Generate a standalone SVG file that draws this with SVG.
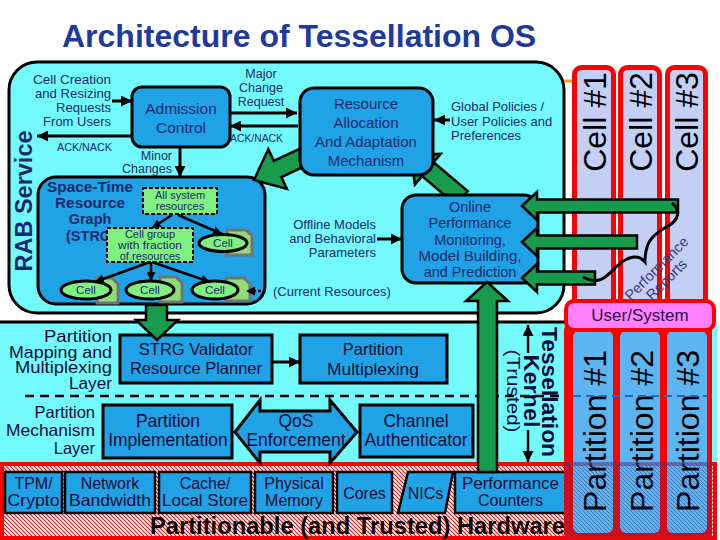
<svg xmlns="http://www.w3.org/2000/svg" width="720" height="540" viewBox="0 0 720 540">
<defs>
<style>
text{font-family:"Liberation Sans",Arial,sans-serif}
.nv{fill:#1a2a6a}
.dk{fill:#0c0c38}
.box{fill:#1fa2e6;stroke:#000;stroke-width:3}
.grn{fill:#179b4c;stroke:#000;stroke-width:2.5;stroke-linejoin:miter}
.ln{stroke:#000;stroke-width:3;fill:none}
.lns{stroke:#000;stroke-width:2.5;fill:none}
.lg{fill:#80f080;stroke:#000;stroke-width:2;stroke-dasharray:4 2}
.cel{fill:#80f080;stroke:#000;stroke-width:3}
.doc{fill:#92dc78;stroke:#6e7672;stroke-width:3}
.cc{fill:#c3cff5;stroke:#f00;stroke-width:5}
.pc{fill:#5cb4f0}
.hw{fill:#1fa2e6;stroke:#000;stroke-width:2.5}
.hwt{font-size:16px;fill:#0c0c38}
.big{font-size:32px;fill:#000}
</style>
<marker id="ah" viewBox="0 0 10 10" refX="10" refY="5" markerWidth="11" markerHeight="11" markerUnits="userSpaceOnUse" orient="auto"><path d="M0,0 L10,5 L0,10 z" fill="#000"/></marker>
<marker id="ahs" viewBox="0 0 10 10" refX="10" refY="5" markerWidth="9" markerHeight="9" markerUnits="userSpaceOnUse" orient="auto"><path d="M0,0 L10,5 L0,10 z" fill="#000"/></marker>
<pattern id="hatch" width="4" height="4" patternUnits="userSpaceOnUse"><rect width="4" height="4" fill="#fff"/><path d="M-1,-1 L5,5 M-1,3 L1,5 M3,-1 L5,1" stroke="#d81818" stroke-width="1.2"/></pattern>
<pattern id="hatchP" width="4" height="4" patternUnits="userSpaceOnUse"><path d="M-1,-1 L5,5 M-1,3 L1,5 M3,-1 L5,1" stroke="#1c2c70" stroke-width="1"/></pattern>
</defs>
<rect width="720" height="540" fill="#fff"/>
<text id="title" x="62" y="47" font-size="32" font-weight="bold" fill="#1f3b99">Architecture of Tessellation OS</text>

<!-- Kernel layer background -->
<g id="kernel-layer">
<rect x="-5" y="322" width="722" height="143" fill="#72fafd"/>
<line x1="-5" y1="322" x2="566" y2="322" stroke="#000" stroke-width="3"/>
<line x1="25" y1="396" x2="564" y2="396" stroke="#000" stroke-width="2.5" stroke-dasharray="9 6"/>
</g>

<!-- Hardware layer -->
<g id="hardware-layer">
<rect x="2" y="464" width="713" height="74" fill="url(#hatch)" stroke="#f00" stroke-width="4"/>
<text x="150" y="534" font-size="23" font-weight="bold" fill="#000" textLength="415" lengthAdjust="spacingAndGlyphs">Partitionable (and Trusted) Hardware</text>
</g>

<!-- RAB service -->
<g id="rab-service">
<rect x="9" y="62" width="555" height="251" rx="28" fill="#72fafd" stroke="#000" stroke-width="3"/>
<text transform="translate(32,201) rotate(-90)" font-size="23.5" font-weight="bold" text-anchor="middle" class="nv">RAB Service</text>
</g>
<line x1="564" y1="81" x2="573" y2="81" stroke="#f0a020" stroke-width="3"/>

<!-- Cells columns -->
<g id="cell1"><rect class="cc" x="574.5" y="67.5" width="39" height="245" rx="7"/><text class="big" transform="translate(606,122) rotate(-90)" text-anchor="middle">Cell #1</text></g>
<g id="cell2"><rect class="cc" x="620.5" y="67.5" width="39" height="245" rx="7"/><text class="big" transform="translate(652,122) rotate(-90)" text-anchor="middle">Cell #2</text></g>
<g id="cell3"><rect class="cc" x="667.5" y="67.5" width="38" height="245" rx="7"/><text class="big" transform="translate(698,122) rotate(-90)" text-anchor="middle">Cell #3</text></g>

<!-- Upper left texts -->
<g id="cell-requests" font-size="13" text-anchor="end">
<text x="111" y="84" class="nv" textLength="78" lengthAdjust="spacingAndGlyphs">Cell Creation</text>
<text x="111" y="98" class="nv" textLength="76" lengthAdjust="spacingAndGlyphs">and Resizing</text>
<text x="111" y="112" class="nv">Requests</text>
<text x="111" y="126" class="nv">From Users</text>
</g>
<text x="57" y="151" font-size="11" class="nv" textLength="55" lengthAdjust="spacingAndGlyphs">ACK/NACK</text>

<g id="admission-control">
<rect class="box" x="132" y="87" width="98" height="60" rx="10"/>
<text x="181" y="114" font-size="15.5" text-anchor="middle" class="nv">Admission</text>
<text x="181" y="133" font-size="15.5" text-anchor="middle" class="nv">Control</text>
</g>

<g id="major-change" font-size="12.5" text-anchor="middle">
<text x="261" y="78" class="nv">Major</text>
<text x="261" y="92" class="nv">Change</text>
<text x="261" y="106" class="nv">Request</text>
</g>
<text x="230" y="142" font-size="11" class="nv" textLength="53" lengthAdjust="spacingAndGlyphs">ACK/NACK</text>
<g font-size="12.5" text-anchor="end">
<text x="172" y="159.5" class="nv">Minor</text>
<text x="172" y="173" class="nv" textLength="50" lengthAdjust="spacingAndGlyphs">Changes</text>
</g>

<!-- Green arrow Online -> Resource -->
<polygon class="grn" points="467.8,191.1 433.6,162.3 440.7,153.9 411,155 414.9,184.5 422,176.1 456.2,204.9"/>

<!-- STRG -->
<g id="strg">
<rect x="38" y="177" width="227" height="127" rx="18" fill="#1fa2e6" stroke="#000" stroke-width="3"/>
<g font-size="14.5" font-weight="bold" text-anchor="middle">
<text x="90" y="191.5" class="nv" textLength="86" lengthAdjust="spacingAndGlyphs">Space-Time</text>
<text x="90" y="207.5" class="nv" textLength="70" lengthAdjust="spacingAndGlyphs">Resource</text>
<text x="90" y="223.5" class="nv">Graph</text>
<text x="91" y="241" class="nv">(STRG)</text>
</g>
</g>
<g id="all-system">
<rect class="lg" x="143" y="188" width="74" height="26"/>
<text x="180" y="199" font-size="11" text-anchor="middle" class="nv">All system</text>
<text x="180" y="210" font-size="11" text-anchor="middle" class="nv">resources</text>
</g>
<g id="cell-group">
<rect class="lg" x="107" y="228" width="86" height="34"/>
<text x="150" y="238" font-size="11" text-anchor="middle" class="nv">Cell group</text>
<text x="150" y="249" font-size="11" text-anchor="middle" class="nv" textLength="64" lengthAdjust="spacingAndGlyphs">with fraction</text>
<text x="150" y="260" font-size="11" text-anchor="middle" class="nv">of resources</text>
</g>
<g id="strg-cell-a"><path class="doc" d="M227,230 H246 L252,236 V255 H227 Z"/><ellipse class="cel" cx="223" cy="243" rx="24" ry="8.5"/><text x="223" y="247" font-size="11.5" text-anchor="middle" class="nv">Cell</text></g>
<g id="strg-cell-b"><path class="doc" d="M97,278 H112 L118,284 V303 H97 Z"/><ellipse class="cel" cx="86" cy="290" rx="25" ry="9"/><text x="86" y="294" font-size="11.5" text-anchor="middle" class="nv">Cell</text></g>
<g id="strg-cell-c"><path class="doc" d="M160,277 H176 L182,283 V302 H160 Z"/><ellipse class="cel" cx="150" cy="290" rx="24" ry="9"/><text x="150" y="294" font-size="11.5" text-anchor="middle" class="nv">Cell</text></g>
<g id="strg-cell-d"><path class="doc" d="M226,278 H244 L250,284 V301 H226 Z"/><ellipse class="cel" cx="215" cy="290" rx="23" ry="9"/><text x="215" y="294" font-size="11.5" text-anchor="middle" class="nv">Cell</text></g>

<!-- Green arrow Resource -> STRG -->
<polygon class="grn" points="310.2,143.8 273.8,160.8 268.3,149.1 254,180 286.9,188.9 281.4,177.2 317.8,160.2"/>

<g id="resource-allocation">
<rect class="box" x="300" y="88" width="133" height="87" rx="14"/>
<g font-size="15" text-anchor="middle">
<text x="366" y="109" class="nv">Resource</text>
<text x="366" y="128" class="nv">Allocation</text>
<text x="366" y="147" class="nv">And Adaptation</text>
<text x="366" y="166" class="nv">Mechanism</text>
</g>
</g>
<g id="policies" font-size="13">
<text x="451" y="111" class="nv">Global Policies /</text>
<text x="451" y="126" class="nv">User Policies and</text>
<text x="451" y="140" class="nv">Preferences</text>
</g>
<g id="offline" font-size="13" text-anchor="end">
<text x="376" y="229" class="nv">Offline Models</text>
<text x="376" y="243" class="nv">and Behavioral</text>
<text x="376" y="257" class="nv">Parameters</text>
</g>
<g id="online-monitoring">
<rect class="box" x="402" y="195" width="136" height="88" rx="14"/>
<g font-size="14.5" text-anchor="middle">
<text x="470" y="212" class="nv">Online</text>
<text x="470" y="228" class="nv">Performance</text>
<text x="470" y="245" class="nv">Monitoring,</text>
<text x="470" y="261" class="nv" textLength="103" lengthAdjust="spacingAndGlyphs">Model Building,</text>
<text x="470" y="277" class="nv">and Prediction</text>
</g>
</g>
<text x="273" y="296" font-size="13" class="nv">(Current Resources)</text>

<!-- Lower layer -->
<g id="mapping-label" font-size="16" text-anchor="end">
<text x="112" y="342" class="dk" textLength="68" lengthAdjust="spacingAndGlyphs">Partition</text>
<text x="112" y="357.5" class="dk" textLength="103" lengthAdjust="spacingAndGlyphs">Mapping and</text>
<text x="112" y="373" class="dk" textLength="97" lengthAdjust="spacingAndGlyphs">Multiplexing</text>
<text x="112" y="388.5" class="dk" textLength="43" lengthAdjust="spacingAndGlyphs">Layer</text>
</g>
<g id="strg-validator">
<rect class="box" x="120" y="335" width="152" height="48"/>
<text x="196" y="355" font-size="16.5" text-anchor="middle" class="dk">STRG Validator</text>
<text x="196" y="374" font-size="16.5" text-anchor="middle" class="dk">Resource Planner</text>
</g>
<g id="partition-multiplexing">
<rect class="box" x="300" y="335" width="147" height="48"/>
<text x="373" y="355" font-size="16.5" text-anchor="middle" class="dk">Partition</text>
<text x="373" y="374.5" font-size="16.5" text-anchor="middle" class="dk" textLength="92" lengthAdjust="spacingAndGlyphs">Multiplexing</text>
</g>
<g id="mechanism-label" font-size="16.5" text-anchor="end">
<text x="95" y="418" class="dk">Partition</text>
<text x="95" y="436" class="dk" textLength="89" lengthAdjust="spacingAndGlyphs">Mechanism</text>
<text x="95" y="454" class="dk">Layer</text>
</g>
<g id="partition-implementation">
<rect class="box" x="103" y="405" width="129" height="53"/>
<text x="168" y="427" font-size="17.5" text-anchor="middle" class="dk">Partition</text>
<text x="168" y="446" font-size="17.5" text-anchor="middle" class="dk">Implementation</text>
</g>
<g id="qos-enforcement">
<polygon points="235,432 260,400 260,411 330,411 330,400 357,432 330,463 330,452 260,452 260,463" fill="#1fa2e6" stroke="#000" stroke-width="3" stroke-linejoin="miter"/>
<text x="296" y="427" font-size="17.5" text-anchor="middle" class="dk">QoS</text>
<text x="296" y="446" font-size="17.5" text-anchor="middle" class="dk">Enforcement</text>
</g>
<g id="channel-authenticator">
<rect class="box" x="360" y="405" width="113" height="52"/>
<text x="416" y="427" font-size="17.5" text-anchor="middle" class="dk">Channel</text>
<text x="416" y="446" font-size="17.5" text-anchor="middle" class="dk">Authenticator</text>
</g>
<g id="tessellation-kernel">
<text transform="translate(542,392) rotate(90)" font-size="21.5" font-weight="bold" text-anchor="middle" class="dk" textLength="130" lengthAdjust="spacingAndGlyphs">Tessellation</text>
<text transform="translate(524,391) rotate(90)" font-size="21.5" font-weight="bold" text-anchor="middle" class="dk" textLength="73" lengthAdjust="spacingAndGlyphs">Kernel</text>
<text transform="translate(507,391) rotate(90)" font-size="19" text-anchor="middle" class="dk" textLength="83" lengthAdjust="spacingAndGlyphs">(Trusted)</text>
</g>

<!-- Hardware boxes -->
<g id="hw-tpm"><rect class="hw" x="5" y="472" width="57" height="41"/><text x="33.5" y="489" class="hwt" text-anchor="middle">TPM/</text><text x="33.5" y="506" class="hwt" text-anchor="middle" textLength="52" lengthAdjust="spacingAndGlyphs">Crypto</text></g>
<g id="hw-network"><rect class="hw" x="65" y="472" width="90" height="41"/><text x="110" y="489" class="hwt" text-anchor="middle">Network</text><text x="110" y="506" class="hwt" text-anchor="middle" textLength="82" lengthAdjust="spacingAndGlyphs">Bandwidth</text></g>
<g id="hw-cache"><rect class="hw" x="159" y="472" width="92" height="41"/><text x="205" y="489" class="hwt" text-anchor="middle">Cache/</text><text x="205" y="506" class="hwt" text-anchor="middle" textLength="86" lengthAdjust="spacingAndGlyphs">Local Store</text></g>
<g id="hw-memory"><rect class="hw" x="255" y="472" width="78" height="41"/><text x="294" y="489" class="hwt" text-anchor="middle">Physical</text><text x="294" y="506" class="hwt" text-anchor="middle">Memory</text></g>
<g id="hw-cores"><rect class="hw" x="337" y="472" width="55" height="41"/><text x="364.5" y="499" class="hwt" font-size="17" text-anchor="middle">Cores</text></g>
<g id="hw-nics"><polygon class="hw" points="408,472 453,472 445,513 398,513"/><text x="425.5" y="499" class="hwt" font-size="17" text-anchor="middle">NICs</text></g>
<g id="hw-perf"><rect class="hw" x="455" y="472" width="111" height="41"/><text x="510.5" y="489" class="hwt" text-anchor="middle" textLength="97" lengthAdjust="spacingAndGlyphs">Performance</text><text x="510.5" y="506" class="hwt" text-anchor="middle">Counters</text></g>

<!-- Partitions -->
<g id="partitions-bg"><rect x="564" y="326" width="148" height="211" rx="4" fill="#f00"/></g>
<g id="partition1"><rect class="pc" x="573" y="331" width="40" height="202" rx="6"/><text class="big" transform="translate(606,431) rotate(-90)" text-anchor="middle">Partition #1</text></g>
<g id="partition2"><rect class="pc" x="620" y="331" width="40" height="202" rx="6"/><text class="big" transform="translate(653,431) rotate(-90)" text-anchor="middle">Partition #2</text></g>
<g id="partition3"><rect class="pc" x="667" y="331" width="40" height="202" rx="6"/><text class="big" transform="translate(699,431) rotate(-90)" text-anchor="middle">Partition #3</text></g>
<line x1="573" y1="396" x2="707" y2="396" stroke="#2a66b8" stroke-width="2" stroke-dasharray="8 5"/>
<rect x="564" y="463" width="148" height="74" fill="url(#hatchP)" opacity="0.45"/>
<line x1="564" y1="464" x2="712" y2="464" stroke="#603080" stroke-width="4" opacity="0.5"/>
<g id="user-system">
<rect x="566" y="301" width="148" height="29" rx="8" fill="#ff80ff" stroke="#f00" stroke-width="4"/>
<text x="640" y="321" font-size="17" text-anchor="middle" fill="#301048">User/System</text>
</g>

<!-- Connectors -->
<g id="connectors">
<line class="ln" x1="112" y1="101" x2="132" y2="101" marker-end="url(#ah)"/>
<line class="ln" x1="132" y1="136" x2="37" y2="136" marker-end="url(#ah)"/>
<line class="ln" x1="230" y1="113" x2="297" y2="113" marker-end="url(#ah)"/>
<line class="ln" x1="298" y1="126" x2="230" y2="126" marker-end="url(#ah)"/>
<line class="ln" x1="180" y1="147" x2="180" y2="177" marker-end="url(#ah)"/>
<line class="ln" x1="450" y1="120" x2="434" y2="120" marker-end="url(#ah)"/>
<line class="ln" x1="377" y1="239" x2="402" y2="239" marker-end="url(#ah)"/>
<line class="lns" x1="172" y1="215" x2="152" y2="228" marker-end="url(#ahs)"/>
<line class="lns" x1="178" y1="215" x2="222" y2="234" marker-end="url(#ahs)"/>
<line class="lns" x1="150" y1="262" x2="95" y2="282" marker-end="url(#ahs)"/>
<line class="lns" x1="151" y1="262" x2="151" y2="281" marker-end="url(#ahs)"/>
<line class="lns" x1="152" y1="262" x2="210" y2="282" marker-end="url(#ahs)"/>
<line x1="266" y1="291" x2="246" y2="291" stroke="#000" stroke-width="2.5" stroke-dasharray="3 2" marker-end="url(#ahs)"/>
<line class="ln" x1="272" y1="362" x2="300" y2="362" marker-end="url(#ah)"/>
<line class="lns" x1="528" y1="353" x2="528" y2="325" marker-end="url(#ah)"/>
<line class="lns" x1="528" y1="430" x2="528" y2="462" marker-end="url(#ah)"/>
<polygon class="grn" points="146,305 167,305 167,320 178,320 157,340 136,320 146,320"/>
<polygon class="grn" points="478,472 497,472 497,301 508,301 487,282 466,301 478,301"/>
<polygon class="grn" points="522,206 537,192 537,199.5 678,199.5 678,212.5 537,212.5 537,220"/>
<polygon class="grn" points="522,242 537,228 537,235.5 637,235.5 637,248.5 537,248.5 537,256"/>
<polygon class="grn" points="522,278 537,264 537,271.5 595,271.5 595,284.5 537,284.5 537,292"/>
<path d="M672,203 C681,210 679,220 668,226 C652,235 645,242 645,262 C638,254 628,256 617,266 C607,276 600,286 583,277" stroke="#000" stroke-width="3" fill="none"/>
</g>
<g id="perf-reports" font-size="14.5" text-anchor="middle" fill="#3a3a70">
<text transform="translate(660,272) rotate(-45)">Performance</text>
<text transform="translate(670,283) rotate(-45)">Reports</text>
</g>
</svg>
